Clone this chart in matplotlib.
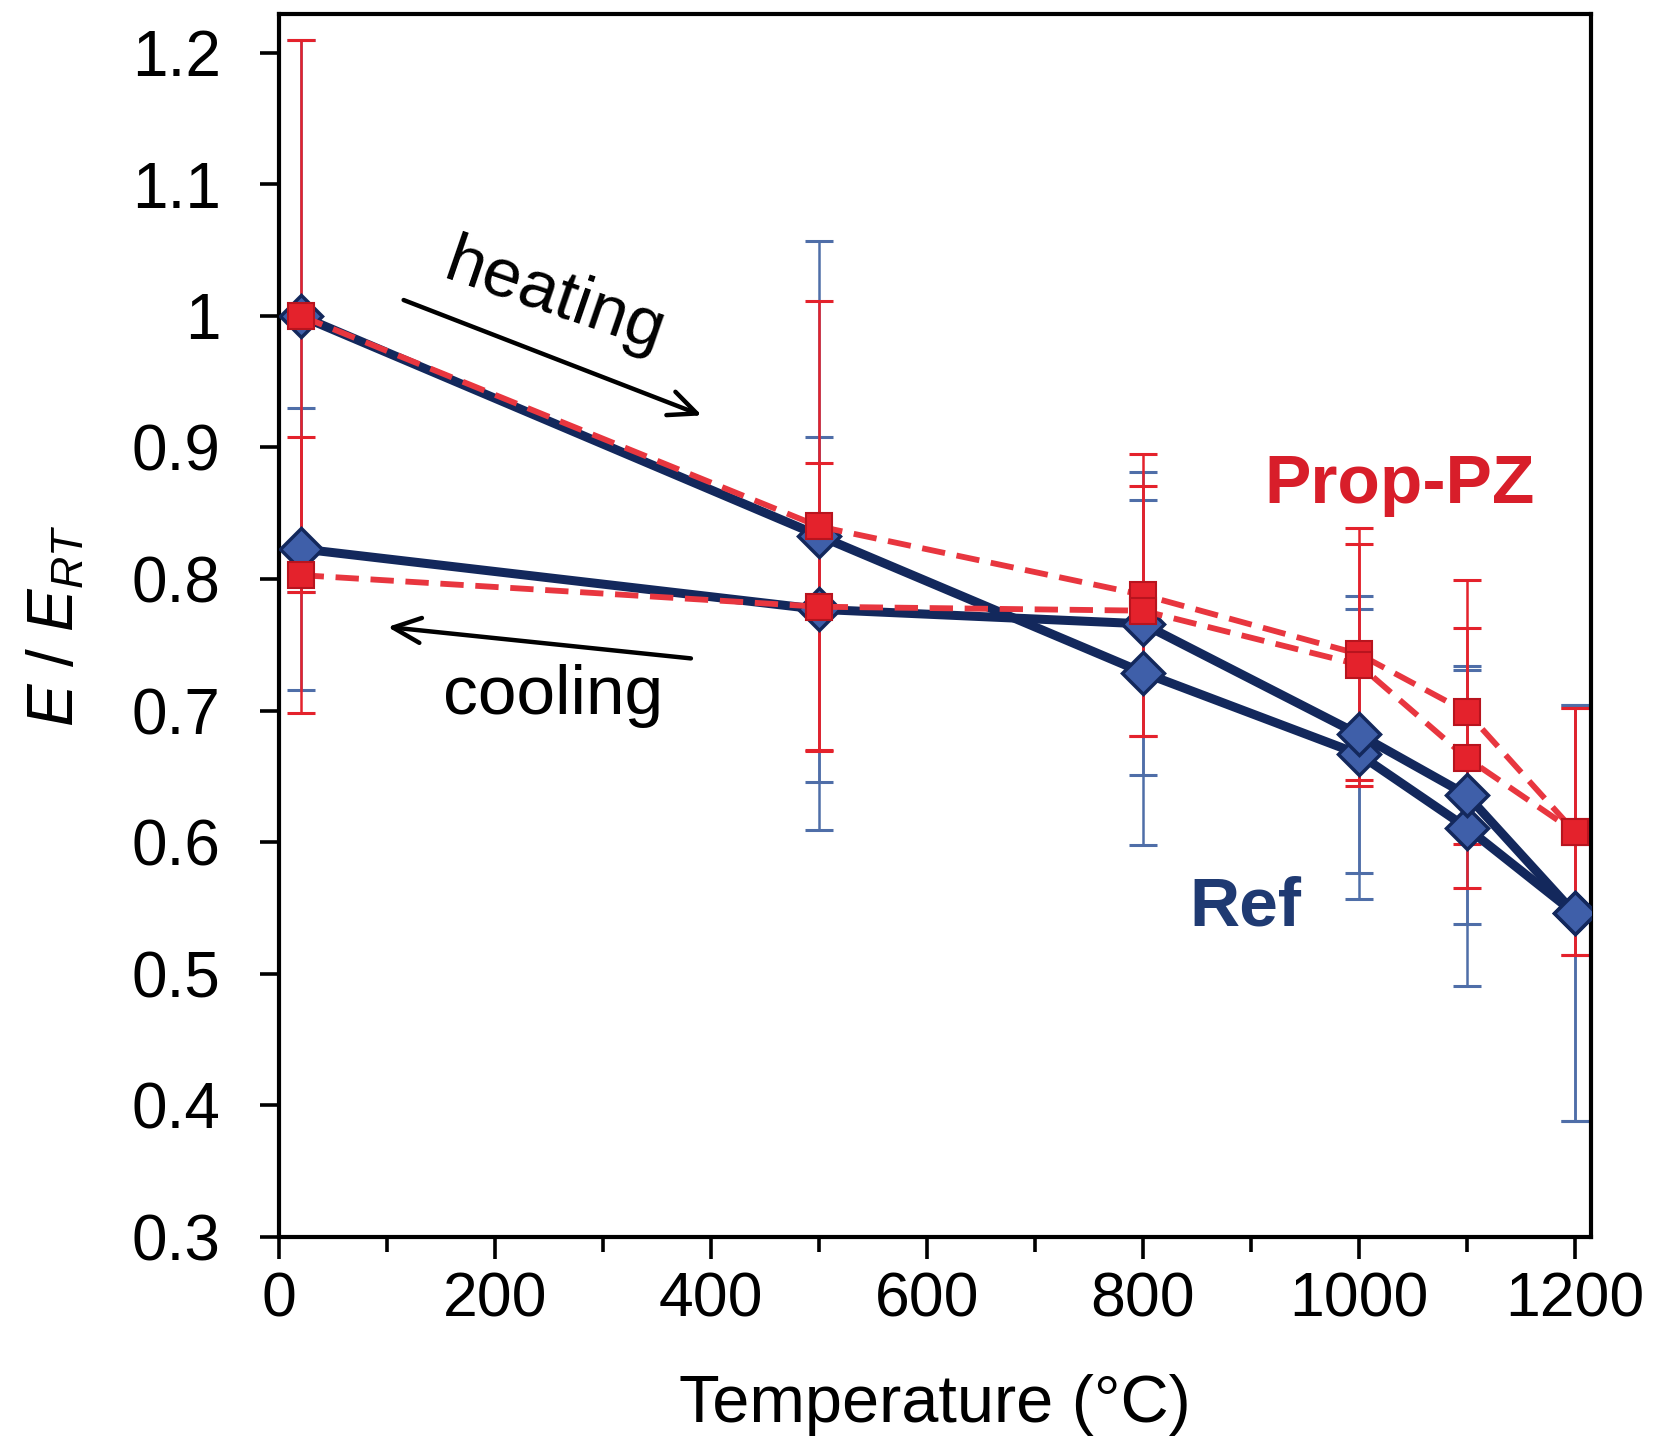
import numpy as np
import matplotlib
matplotlib.use("Agg")
import matplotlib.pyplot as plt

plt.rcParams['font.family'] = ['Liberation Sans', 'DejaVu Sans']
plt.rcParams['mathtext.fontset'] = 'custom'
plt.rcParams['mathtext.it'] = 'Liberation Sans:italic'
plt.rcParams['mathtext.rm'] = 'Liberation Sans'

# temperatures (deg C)
temp = [20, 500, 800, 1000, 1100, 1200]

# Ref (blue, solid) - heating and cooling branches
ref_heat = [1.0, 0.833, 0.729, 0.667, 0.611, 0.546]
ref_heat_err = [0.21, 0.224, 0.131, 0.110, 0.120, 0.158]
ref_cool = [0.823, 0.777, 0.766, 0.682, 0.636, 0.546]
ref_cool_err = [0.107, 0.131, 0.115, 0.105, 0.098, 0.158]

# Prop-PZ (red, dashed)
pz_heat = [1.0, 0.840, 0.788, 0.743, 0.699, 0.608]
pz_heat_err = [0.21, 0.171, 0.107, 0.096, 0.100, 0.094]
pz_cool = [0.803, 0.779, 0.776, 0.735, 0.664, 0.608]
pz_cool_err = [0.105, 0.109, 0.095, 0.092, 0.099, 0.094]

navy = '#13285c'
blue_fill = '#3f5fa9'
blue_err = '#4f6ea8'
red = '#e4222c'
red_line = '#e8363f'
red_edge = '#b8141e'

fig = plt.figure(figsize=(16.54, 14.45), dpi=100)
ax = fig.add_axes([0.1687, 0.1439, 0.7932, 0.8466])

# error bars first (behind)
for v, e in [(ref_heat, ref_heat_err), (ref_cool, ref_cool_err)]:
    ax.errorbar(temp, v, yerr=e, fmt='none', ecolor=blue_err, elinewidth=1.8,
                capsize=10, capthick=2.2, zorder=1)
for v, e in [(pz_heat, pz_heat_err), (pz_cool, pz_cool_err)]:
    ax.errorbar(temp, v, yerr=e, fmt='none', ecolor=red, elinewidth=1.8,
                capsize=10, capthick=2.2, zorder=1.5)

# Ref lines
for v in [ref_heat, ref_cool]:
    ax.plot(temp, v, '-', color=navy, lw=6.5, marker='D', ms=21,
            mfc=blue_fill, mec=navy, mew=2.5, zorder=3)
# Prop-PZ lines
for v in [pz_heat, pz_cool]:
    ax.plot(temp, v, '--', color=red_line, lw=4.2, dashes=(4, 2), marker='s',
            ms=19, mfc=red, mec=red_edge, mew=1.5, zorder=4)

ax.set_xlim(0, 1215)
ax.set_ylim(0.3, 1.2296)
ax.set_xticks(np.arange(0, 1201, 200))
ax.set_xticks(np.arange(100, 1201, 200), minor=True)
ax.set_yticks(np.arange(0.3, 1.21, 0.1))
ax.set_yticklabels(['0.3', '0.4', '0.5', '0.6', '0.7', '0.8', '0.9', '1', '1.1', '1.2'])

for s in ax.spines.values():
    s.set_linewidth(3)
ax.tick_params(axis='x', which='major', direction='out', length=16, width=2.6,
               labelsize=45, pad=8)
ax.tick_params(axis='x', which='minor', direction='out', length=11, width=2.6)
ax.tick_params(axis='y', which='major', direction='out', length=14, width=2.6,
               labelsize=46, pad=28)

ax.set_xlabel('Temperature (°C)', fontsize=48, labelpad=32)
ax.set_ylabel(r'$E$ / $E_{RT}$', fontsize=46, labelpad=32)

# annotations
arrow = dict(arrowstyle='->,head_length=2.0,head_width=0.9', color='black',
             lw=3.2)
ax.annotate('', xy=(394, 0.9236), xytext=(113, 1.0128), arrowprops=arrow)
ax.text(255, 1.0138, 'heating', fontsize=50, rotation=-19, ha='center',
        va='center', rotation_mode='anchor')
ax.annotate('', xy=(98, 0.7638), xytext=(384, 0.7395), arrowprops=arrow)
ax.text(254, 0.7114, 'cooling', fontsize=50, ha='center', va='center')

ax.text(1038, 0.858, 'Prop-PZ', fontsize=50, fontweight='bold', color='#d81e2a',
        ha='center', va='baseline')
ax.text(895, 0.5366, 'Ref', fontsize=50, fontweight='bold', color='#1f3a72',
        ha='center', va='baseline')

fig.savefig('out.png', dpi=100)
